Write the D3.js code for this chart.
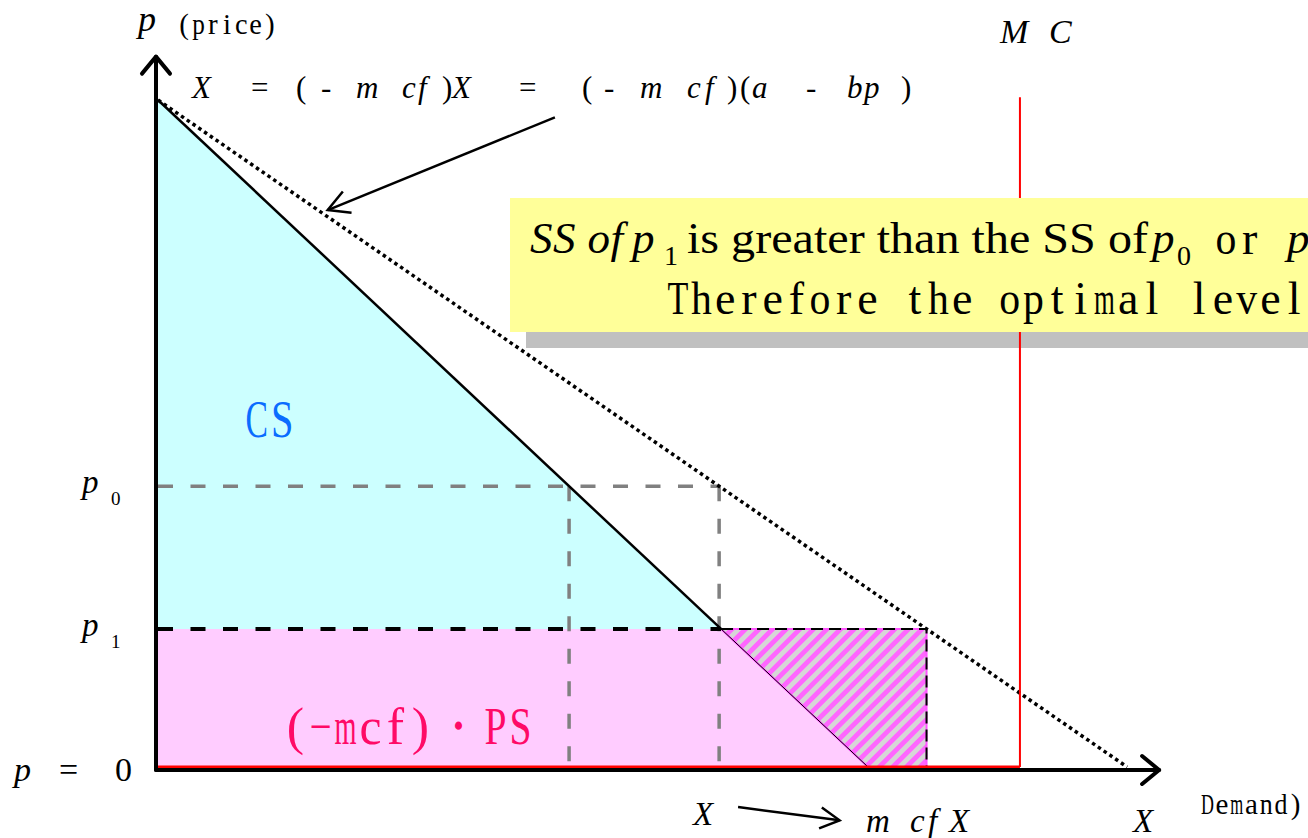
<!DOCTYPE html>
<html>
<head>
<meta charset="utf-8">
<script src="https://cdn.jsdelivr.net/npm/d3@7"></script>
<style>
  body { margin: 0; background: #fff; }
  svg { display: block; }
</style>
</head>
<body>
<div id="chart"></div>
<script>
// quantity X on the horizontal axis, price p on the vertical one (demand intercept = 1)
const priceNames = ["0", "1"];
const priceLevels = [0.421, 0.207];     // p0, p1
const demandX = [0, 1];                  // X = a - bp
const demandP = [1, 0];
const expandedX = [0, 1.365];            // (1-mcf)X, dotted line
const expandedP = [1, 0];
const mcX = 1.214;
const mcTop = 1.004;
const axisEnd = [1.41, 1.065];           // arrow tips: X, p

const W = 1308, H = 838;
const serif = "'Liberation Serif', 'Times New Roman', serif";

const svg = d3.select("#chart").append("svg")
    .attr("width", W)
    .attr("height", H)
    .style("font-family", serif);

const x = d3.scaleLinear().domain([0, 1]).range([158, 868]);
const y = d3.scaleLinear().domain([0, 1]).range([767, 100]);

const qDemand = p => demandX[1] * (demandP[0] - p) / demandP[0];
const qExpanded = p => expandedX[1] * (expandedP[0] - p) / expandedP[0];
const [p0, p1] = priceLevels;

const line = d3.line().x(d => x(d[0])).y(d => y(d[1]));

// hatch pattern for the lost surplus
const defs = svg.append("defs");
const pat = defs.append("pattern")
    .attr("id", "hatch")
    .attr("patternUnits", "userSpaceOnUse")
    .attr("width", 9.6)
    .attr("height", 9.6)
    .attr("patternTransform", "rotate(45)");
pat.append("rect").attr("width", 9.6).attr("height", 9.6).attr("fill", "#d6d6d6");
pat.append("rect").attr("width", 4.8).attr("height", 9.6).attr("fill", "#ff66ff");

// consumer surplus
svg.append("path")
    .attr("d", line([[0, demandP[0]], [qDemand(p1), p1], [0, p1]]) + "Z")
    .attr("fill", "#ccffff");

// producer surplus
svg.append("path")
    .attr("d", line([[0, p1], [qDemand(p1), p1], [qDemand(0), 0], [0, 0]]) + "Z")
    .attr("fill", "#ffccff");

// hatched area
svg.append("path")
    .attr("d", line([[qDemand(p1), p1], [qExpanded(p1), p1], [qExpanded(p1), 0], [qDemand(0), 0]]) + "Z")
    .attr("fill", "url(#hatch)")
    .attr("stroke", "#ff55ff")
    .attr("stroke-width", 2);

// grey dashed guides at p0
const greyDash = svg.append("g")
    .attr("fill", "none")
    .attr("stroke", "#808080")
    .attr("stroke-width", 3.5)
    .attr("stroke-dasharray", "15,17.5");
greyDash.append("path").attr("d", line([[0, p0], [qExpanded(p0), p0]]));
greyDash.append("path").attr("d", line([[qDemand(p0), p0], [qDemand(p0), 0]]));
greyDash.append("path").attr("d", line([[qExpanded(p0), p0], [qExpanded(p0), 0]]));

// black dashed guides at p1
svg.append("path")
    .attr("d", line([[0, p1], [qDemand(p1), p1]]))
    .attr("fill", "none")
    .attr("stroke", "#000")
    .attr("stroke-width", 4)
    .attr("stroke-dasharray", "15,17.5");
svg.append("path")
    .attr("d", line([[qDemand(p1), p1], [qExpanded(p1), p1], [qExpanded(p1), 0]]))
    .attr("fill", "none")
    .attr("stroke", "#000")
    .attr("stroke-width", 2)
    .attr("stroke-dasharray", "12,6");

// demand curve
svg.append("path")
    .attr("d", line([[demandX[0], demandP[0]], [qDemand(p1), p1]]))
    .attr("stroke", "#000")
    .attr("stroke-width", 2.5);
svg.append("path")
    .attr("d", line([[qDemand(p1), p1], [demandX[1], demandP[1]]]))
    .attr("stroke", "#000")
    .attr("stroke-width", 1);

// expanded demand, dotted
svg.append("path")
    .attr("d", line([[expandedX[0], expandedP[0]], [expandedX[1], expandedP[1]]]))
    .attr("fill", "none")
    .attr("stroke", "#000")
    .attr("stroke-width", 3.5)
    .attr("stroke-dasharray", "3.5,3.5");

// supply: p = 0 then vertical MC
svg.append("path")
    .attr("d", line([[0, 0], [mcX, 0]]))
    .attr("stroke", "#ff0000")
    .attr("stroke-width", 3);

// note box shadow (MC line is drawn over the shadow but under the box)
svg.append("rect")
    .attr("x", 526).attr("y", 214)
    .attr("width", W - 526).attr("height", 134)
    .attr("fill", "#c0c0c0");

svg.append("path")
    .attr("d", line([[mcX, 0], [mcX, mcTop]]))
    .attr("stroke", "#ff0000")
    .attr("stroke-width", 2);

svg.append("rect")
    .attr("x", 510).attr("y", 198)
    .attr("width", W - 510).attr("height", 134)
    .attr("fill", "#ffff99");

// axes with open arrow heads
const axes = svg.append("g")
    .attr("fill", "none")
    .attr("stroke", "#000")
    .attr("stroke-width", 4)
    .attr("stroke-linecap", "round")
    .attr("stroke-linejoin", "round");
const ox = x(0) - 2, oy = y(0) + 3;
axes.append("path").attr("d", `M${ox},${oy}V${y(axisEnd[1])}`);
axes.append("path").attr("d", `M${ox - 14},${y(axisEnd[1]) + 17}L${ox},${y(axisEnd[1])}L${ox + 14},${y(axisEnd[1]) + 17}`);
axes.append("path").attr("d", `M${ox},${oy}H${x(axisEnd[0])}`);
axes.append("path").attr("d", `M${x(axisEnd[0]) - 17},${oy - 14}L${x(axisEnd[0])},${oy}L${x(axisEnd[0]) - 17},${oy + 14}`);

// pointer arrows
function arrow(from, to, len) {
    const x1 = x(from[0]), y1 = y(from[1]), x2 = x(to[0]), y2 = y(to[1]);
    const a = Math.atan2(y2 - y1, x2 - x1);
    const g = svg.append("g")
        .attr("fill", "none")
        .attr("stroke", "#000")
        .attr("stroke-width", 2.5);
    g.append("path").attr("d", `M${x1},${y1}L${x2},${y2}`);
    g.append("path").attr("d",
        `M${x2 - len * Math.cos(a - 0.5)},${y2 - len * Math.sin(a - 0.5)}` +
        `L${x2},${y2}L${x2 - len * Math.cos(a + 0.5)},${y2 - len * Math.sin(a + 0.5)}`);
}
arrow([0.559, 0.974], [0.239, 0.835], 24);
arrow([0.817, -0.06], [0.96, -0.08], 22);

// ---- texts ----
function txt(s, tx, ty, size, opts = {}) {
    const t = svg.append("text")
        .attr("x", tx)
        .attr("y", ty)
        .attr("font-size", size)
        .attr("fill", opts.fill || "#000")
        .attr("font-style", opts.italic ? "italic" : "normal")
        .text(s);
    if (opts.len) t.attr("textLength", opts.len).attr("lengthAdjust", opts.adjust || "spacing");
    return t;
}

// fixed-pitch text (the original uses a half-width CJK face): one cell per character,
// glyphs wider than their cell get squeezed horizontally
function mono(s, x0, ty, size, cell, fill = "#000") {
    let cx = x0;
    Array.from(s).forEach(ch => {
        const cw = ch === "\u30fb" ? cell * 2 : cell;
        if (ch !== " ") {
            const t = svg.append("text")
                .attr("font-size", size)
                .attr("fill", fill)
                .text(ch);
            const w = t.node().getComputedTextLength();
            const maxW = cw * 0.88;
            if (w > maxW) {
                t.attr("transform", `translate(${cx + (cw - maxW) / 2},${ty}) scale(${maxW / w},1)`);
            } else {
                t.attr("transform", `translate(${cx + (cw - w) / 2},${ty})`);
            }
        }
        cx += cw;
    });
}

// axis titles
txt("p", 138, 31, 36, {italic: true});
mono("(price)", 177, 34, 29, 14.3);
txt("M", 1000, 43, 34, {italic: true});
txt("C", 1049, 43, 34, {italic: true});
txt("X", 1133, 832, 33, {italic: true});
mono("Demand)", 1200, 814, 29, 14.7);

// formula X = (1-mcf)X = (1-mcf)(a - bp), glyph by glyph as in the source
const formula = [
    ["X", 192, 1], ["=", 251, 0], ["(", 296, 0], ["-", 321, 0], ["m", 356, 1], ["c", 402, 1], ["f", 418, 1],
    [")", 442, 0], ["X", 452, 1], ["=", 519, 0], ["(", 582, 0], ["-", 604, 0], ["m", 640, 1], ["c", 687, 1],
    ["f", 705, 1], [")", 727, 0], ["(", 740, 0], ["a", 752, 1], ["-", 806, 0], ["b", 847, 1], ["p", 864, 1], [")", 901, 0]
];
formula.forEach(([s, fx, it]) => txt(s, fx, 98, 31, {italic: !!it}));

// price labels
priceLevels.forEach((p, i) => {
    txt("p", 82, y(p) + 7, 33, {italic: true});
    txt(priceNames[i], 111, y(p) + 19, 19);
});
txt("p", 14, 781, 34, {italic: true});
txt("=", 59, 781, 34);
txt("0", 115, 781, 34);

// quantity labels
txt("X", 693, 825, 33, {italic: true});
txt("m", 866, 832, 33, {italic: true});
txt("c", 910, 832, 33, {italic: true});
txt("f", 928, 832, 33, {italic: true});
txt("X", 949, 832, 33, {italic: true});

// area labels
mono("CS", 244, 437, 52, 25.5, "#0a6cff");
mono("(\u2212mcf)\u30fbPS", 283, 744, 52, 25, "#ff0a66");

// note
txt("SS of", 530, 253, 45, {italic: true, len: 93});
txt("p", 632, 253, 45, {italic: true});
txt("1", 664, 265, 28);
txt("is greater than the SS of", 687, 253, 45, {len: 461, adjust: "spacingAndGlyphs"});
txt("p", 1152, 253, 45, {italic: true});
txt("0", 1177, 265, 28);
mono("or", 1214, 254, 46, 23.7);
txt("p", 1287, 253, 45, {italic: true});
mono("Therefore the optimal level", 666, 314, 46, 23.7);
</script>
</body>
</html>
